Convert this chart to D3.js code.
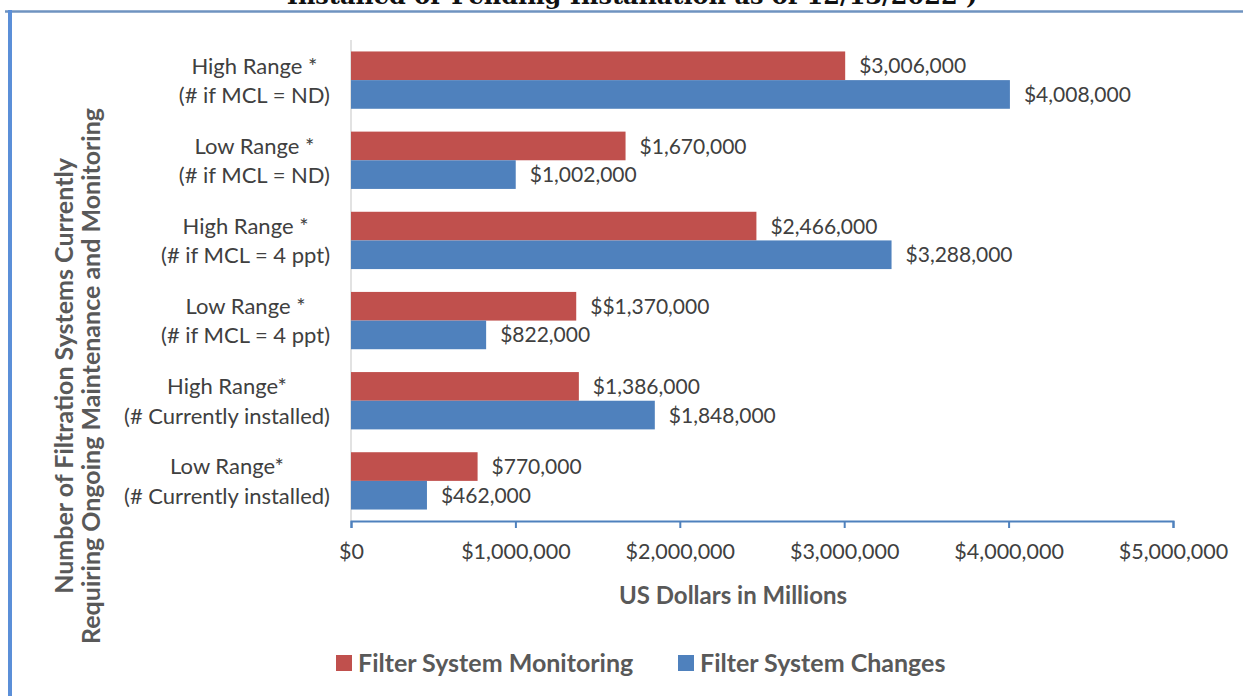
<!DOCTYPE html>
<html>
<head>
<meta charset="utf-8">
<script src="https://cdn.jsdelivr.net/npm/d3@7"></script>
<style>
  html, body { margin: 0; padding: 0; background: #fff; }
  svg { display: block; font-family: Lato, "Open Sans", sans-serif; }
</style>
</head>
<body>
<svg id="chart" width="1243" height="696"></svg>
<script>
// Category labels (two lines each), top to bottom
const categoryLine1 = ["High Range *", "Low Range *", "High Range *", "Low Range *", "High Range*", "Low Range*"];
const categoryLine2 = ["(# if MCL = ND)", "(# if MCL = ND)", "(# if MCL = 4 ppt)", "(# if MCL = 4 ppt)", "(# Currently installed)", "(# Currently installed)"];

// Series values in US dollars
const monitoring = [3006000, 1670000, 2466000, 1370000, 1386000, 770000];
const changes    = [4008000, 1002000, 3288000, 822000, 1848000, 462000];
// Extra prefix printed before some value labels
const monitoringLabelPrefix = ["", "", "", "$", "", ""];

const seriesNames = ["Filter System Monitoring", "Filter System Changes"];
const seriesColors = ["#c0504d", "#4f81bd"];
const xTicks = [0, 1000000, 2000000, 3000000, 4000000, 5000000];

const svg = d3.select("#chart");
const textColor = "#404040";
const titleColor = "#595959";

// Frame lines
svg.append("line").attr("x1", 5).attr("x2", 1243).attr("y1", 11.5).attr("y2", 11.5)
  .attr("stroke", "#6f93c0").attr("stroke-width", 2.5);
svg.append("line").attr("x1", 10).attr("x2", 10).attr("y1", 10).attr("y2", 696)
  .attr("stroke", "#5b8fd8").attr("stroke-width", 4);

// Heading running off the top edge
svg.append("text")
  .attr("x", 632).attr("y", 4)
  .attr("text-anchor", "middle")
  .attr("font-family", "'DejaVu Serif', serif")
  .attr("font-weight", "bold")
  .attr("font-size", 24)
  .attr("fill", "#111")
  .text("Installed or Pending Installation as of 12/13/2022 )");

const plotLeft = 351, plotRight = 1173, plotTop = 40, plotBottom = 521;

const x = d3.scaleLinear().domain([0, 5000000]).range([plotLeft, plotRight]);
const y0 = d3.scaleBand().domain(d3.range(categoryLine1.length)).range([plotTop, plotBottom]).paddingInner(0.285).paddingOuter(0.143);
const y1 = d3.scaleBand().domain([0, 1]).range([0, y0.bandwidth()]);

// Vertical category axis line
svg.append("line").attr("x1", plotLeft).attr("x2", plotLeft).attr("y1", plotTop).attr("y2", plotBottom)
  .attr("stroke", "#d9d9d9").attr("stroke-width", 1.5);

const series = [monitoring, changes];
const groups = svg.append("g");
series.forEach((vals, s) => {
  groups.selectAll(".bar" + s).data(vals).enter().append("rect")
    .attr("x", x(0))
    .attr("y", (d, i) => y0(i) + y1(s))
    .attr("width", d => x(d) - x(0))
    .attr("height", y1.bandwidth())
    .attr("fill", seriesColors[s]);
  groups.selectAll(".lab" + s).data(vals).enter().append("text")
    .attr("x", d => x(d) + 14)
    .attr("y", (d, i) => y0(i) + y1(s) + y1.bandwidth() / 2)
    .attr("dy", "0.36em")
    .attr("font-size", 21)
    .attr("fill", textColor)
    .text((d, i) => (s === 0 ? monitoringLabelPrefix[i] : "") + d3.format("$,")(d));
});

// Category labels: each two-line block sits against the axis, lines centred within it
const cat = svg.append("g");
const labelRight = 330;
categoryLine1.forEach((l1, i) => {
  const cy = y0(i) + y0.bandwidth() / 2;
  const t = cat.append("text").attr("text-anchor", "middle").attr("font-size", 22).attr("fill", textColor);
  const a = t.append("tspan").attr("y", cy - 14.5).attr("dy", "0.36em").text(l1);
  const b = t.append("tspan").attr("y", cy + 15).attr("dy", "0.36em").text(categoryLine2[i]);
  const w = Math.max(a.node().getComputedTextLength(), b.node().getComputedTextLength());
  a.attr("x", labelRight - w / 2);
  b.attr("x", labelRight - w / 2);
});

// X axis
const xAxis = d3.axisBottom(x).tickValues(xTicks).tickFormat(d3.format("$,")).tickSize(7).tickSizeOuter(7);
const gx = svg.append("g").attr("transform", `translate(0,${plotBottom})`).call(xAxis);
gx.select(".domain").attr("stroke", "#4f81bd").attr("stroke-width", 2);
gx.selectAll(".tick line").attr("stroke", "#4f81bd").attr("stroke-width", 2);
gx.selectAll(".tick text").attr("font-size", 21.5).attr("fill", textColor).attr("font-family", "Lato, sans-serif").attr("dy", "1.3em");

// Axis titles
svg.append("text").attr("x", 733).attr("y", 595).attr("dy", "0.36em").attr("text-anchor", "middle")
  .attr("font-size", 24).attr("font-weight", "bold").attr("fill", titleColor).text("US Dollars in Millions");

const yTitle = svg.append("g").attr("font-size", 25).attr("font-weight", "bold").attr("fill", titleColor)
  .attr("text-anchor", "middle");
yTitle.append("text").attr("transform", "translate(73,376) rotate(-90)")
  .text("Number of Filtration Systems Currently");
yTitle.append("text").attr("transform", "translate(100,376) rotate(-90)")
  .text("Requiring Ongoing Maintenance and Monitoring");

// Legend
const legendX = [336, 678];
seriesNames.forEach((name, s) => {
  svg.append("rect").attr("x", legendX[s]).attr("y", 655).attr("width", 16).attr("height", 16).attr("fill", seriesColors[s]);
  svg.append("text").attr("x", legendX[s] + 22).attr("y", 663).attr("dy", "0.36em")
    .attr("font-size", 25).attr("font-weight", "bold").attr("fill", titleColor).text(name);
});
</script>
</body>
</html>
